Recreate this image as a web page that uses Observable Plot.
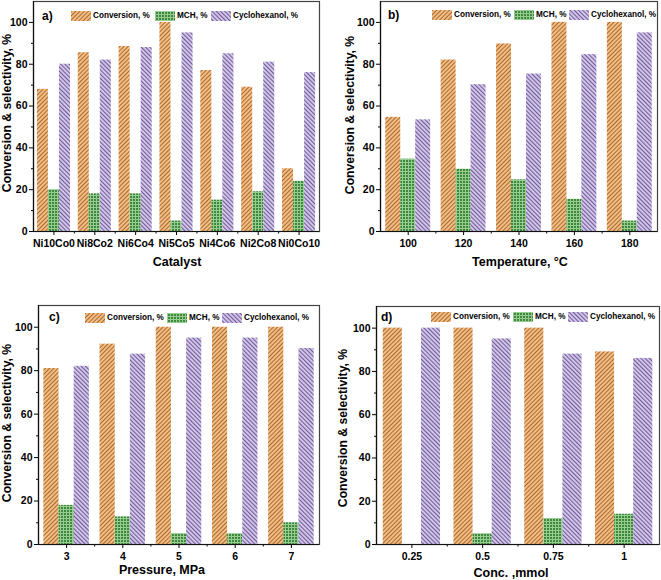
<!DOCTYPE html>
<html><head><meta charset="utf-8">
<script src="https://cdn.jsdelivr.net/npm/d3@7"></script>
<script src="https://cdn.jsdelivr.net/npm/@observablehq/plot@0.6"></script>
<style>
body{margin:0;background:#fff;}
#root{position:relative;width:661px;height:580px;overflow:hidden;font-family:"Liberation Sans",Arial,sans-serif;font-weight:bold;color:#000;}
.panel{position:absolute;}
.t{position:absolute;white-space:nowrap;line-height:1;}
.sw{position:absolute;display:block;}
</style></head><body>
<svg width="0" height="0" style="position:absolute">
<defs>
<pattern id="pConv" patternUnits="userSpaceOnUse" width="3" height="3" patternTransform="rotate(45)">
<rect width="3" height="3" fill="#f5bd80"/><rect width="0.9" height="3" fill="#9a6030"/>
</pattern>
<pattern id="pMch" patternUnits="userSpaceOnUse" width="3" height="3">
<rect width="3" height="3" fill="#98cd92"/><rect x="1" y="1" width="2" height="2" fill="#3d883d"/>
</pattern>
<pattern id="pCyc" patternUnits="userSpaceOnUse" width="3" height="3" patternTransform="rotate(-45)">
<rect width="3" height="3" fill="#d6cae9"/><rect width="1.1" height="3" fill="#6f5a9c"/>
</pattern>
</defs></svg>
<div id="root"></div>
<script>
// ---- data ----
const seriesNames = ["Conversion, %", "MCH, %", "Cyclohexanol, %"];
const seriesFill = ["url(#pConv)", "url(#pMch)", "url(#pCyc)"];
const yTicks = [0, 20, 40, 60, 80, 100];
const yMinor = [10, 30, 50, 70, 90];

const catA = ["Ni10Co0", "Ni8Co2", "Ni6Co4", "Ni5Co5", "Ni4Co6", "Ni2Co8", "Ni0Co10"];
const convA = [68, 85.5, 88.5, 100, 77, 69, 30];
const mchA = [20, 18, 18, 5, 15, 19, 24];
const cycA = [80, 82, 88, 95, 85, 81, 76];

const catB = ["100", "120", "140", "160", "180"];
const convB = [54.6, 82, 89.7, 100, 100];
const mchB = [34.6, 29.8, 24.7, 15.4, 5];
const cycB = [53.4, 70.2, 75.3, 84.6, 95];

const catC = ["3", "4", "5", "6", "7"];
const convC = [81, 92.2, 100, 100, 100];
const mchC = [18, 12.7, 5, 5, 10];
const cycC = [82, 87.6, 95, 95, 90.2];

const catD = ["0.25", "0.5", "0.75", "1"];
const convD = [100, 100, 100, 89];
const mchD = [0, 5, 12, 14];
const cycD = [100, 95, 88, 86];

const root = document.getElementById("root");
const W = 0.27;

function addText(txt, x, y, size, rotate, anchor) {
  const d = document.createElement("div");
  d.className = "t";
  d.textContent = txt;
  d.style.fontSize = size + "px";
  d.style.left = x + "px";
  d.style.top = y + "px";
  const tx = anchor === "start" ? "0" : "-50%";
  d.style.transform = `translate(${tx},-50%)` + (rotate ? " rotate(-90deg)" : "");
  root.appendChild(d);
  return d;
}

// legend: swatch x positions per item, text follows swatch
function addLegend(xs, y) {
  seriesNames.forEach((n, k) => {
    const sw = document.createElementNS("http://www.w3.org/2000/svg", "svg");
    sw.setAttribute("width", 20); sw.setAttribute("height", 10);
    sw.setAttribute("class", "sw");
    sw.style.left = xs[k] + "px";
    sw.style.top = (y - 5) + "px";
    const r = document.createElementNS("http://www.w3.org/2000/svg", "rect");
    r.setAttribute("width", 20); r.setAttribute("height", 10);
    r.setAttribute("fill", seriesFill[k]);
    sw.appendChild(r);
    root.appendChild(sw);
    addText(n, xs[k] + 22, y, 8.2, false, "start");
  });
}

function panel(c) {
  const n = c.cats.length;
  const idx = d3.range(n);
  const mids = d3.range(n - 1).map(i => i + 0.5);
  const marks = [];
  c.series.forEach((vals, s) => {
    const rows = vals.map((v, i) => ({i, v}));
    marks.push(Plot.rect(rows, {
      x1: d => d.i + (s - 1) * W - W / 2,
      x2: d => d.i + (s - 1) * W + W / 2,
      y1: d => 0,
      y2: "v",
      fill: seriesFill[s]
    }));
  });
  marks.push(
    Plot.axisY({ticks: yTicks, tickSize: 4, tickPadding: 2, label: null, fontSize: 10.5}),
    Plot.axisY({ticks: yMinor, tickSize: 2, tickFormat: () => "", label: null}),
    Plot.axisX({ticks: idx, tickSize: 4, tickPadding: 4, tickFormat: i => c.cats[i], label: null, fontSize: 10.5}),
    Plot.axisX({ticks: mids, tickSize: 2.5, tickFormat: () => "", label: null}),
    Plot.frame({stroke: "#444", strokeWidth: 1.2}),
    Plot.ruleX([-0.5], {stroke: "#111", strokeWidth: 1.2}),
    Plot.ruleY([0], {stroke: "#111", strokeWidth: 1.2})
  );
  const svg = Plot.plot({
    width: c.w, height: c.h,
    marginLeft: c.mL, marginRight: c.mR, marginTop: c.mT, marginBottom: c.mB,
    x: {type: "linear", domain: [-0.5, n - 0.5]},
    y: {domain: [0, 110]},
    style: {fontFamily: "'Liberation Sans', Arial, sans-serif", fontWeight: "bold", fontSize: "10.5px", color: "#000", background: "transparent", overflow: "visible"},
    marks
  });
  const holder = document.createElement("div");
  holder.className = "panel";
  holder.style.left = c.left + "px";
  holder.style.top = c.top + "px";
  holder.appendChild(svg);
  root.appendChild(holder);
  addText(c.letter, c.letterX, c.letterY, 12, false, "start");
  addLegend(c.legXs, c.legY);
  addText(c.xLabel, c.xlX, c.xlY, 12.5, false);
  addText("Conversion & selectivity, %", c.ylX, c.ylY, 12.2, true);
}

panel({cats: catA, series: [convA, mchA, cycA], left: 0, top: 0, w: 330, h: 290, mL: 33, mR: 11, mT: 1, mB: 59,
  letter: "a)", letterX: 42, letterY: 16, legXs: [71, 155, 211], legY: 16, xLabel: "Catalyst", xlX: 177, xlY: 262, ylX: 7, ylY: 113});
panel({cats: catB, series: [convB, mchB, cycB], left: 330, top: 0, w: 331, h: 290, mL: 50, mR: 4, mT: 1, mB: 59,
  letter: "b)", letterX: 388, letterY: 15, legXs: [432, 514, 569], legY: 15, xLabel: "Temperature, \u00b0C", xlX: 520, xlY: 262, ylX: 350, ylY: 115});
panel({cats: catC, series: [convC, mchC, cycC], left: 0, top: 290, w: 330, h: 290, mL: 38, mR: 11, mT: 15, mB: 36,
  letter: "c)", letterX: 49, letterY: 317, legXs: [85, 167, 222], legY: 318, xLabel: "Pressure, MPa", xlX: 162, xlY: 570, ylX: 7, ylY: 423});
panel({cats: catD, series: [convD, mchD, cycD], left: 330, top: 290, w: 331, h: 290, mL: 46, mR: 2, mT: 16, mB: 36,
  letter: "d)", letterX: 381, letterY: 317, legXs: [431, 513, 568], legY: 317, xLabel: "Conc. ,mmol", xlX: 511, xlY: 573, ylX: 343, ylY: 428});
</script>
</body></html>
